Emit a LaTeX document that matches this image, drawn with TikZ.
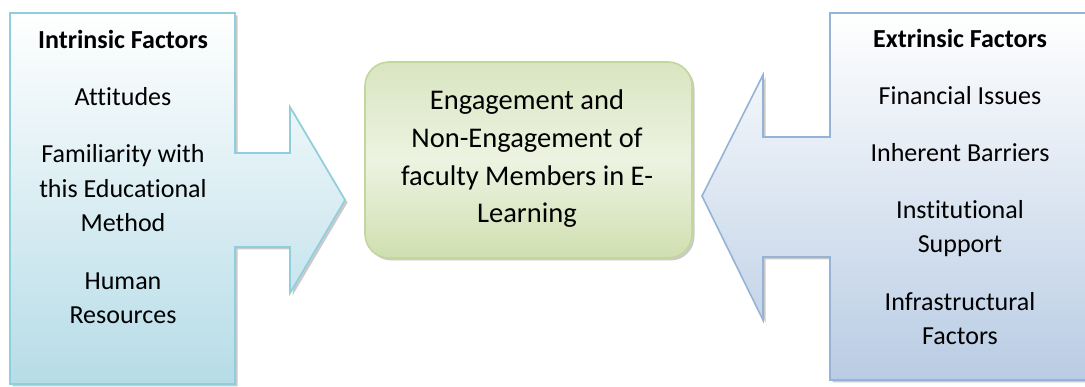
\documentclass[tikz,border=0pt]{standalone}
\usepackage{fontspec}
\setmainfont{Carlito}[Ligatures=NoCommon]
\usetikzlibrary{shadows}
\definecolor{lblueedge}{HTML}{8ECFDE}
\definecolor{lbluebot}{HTML}{B6DCE7}
\definecolor{rblueedge}{HTML}{95B3D7}
\definecolor{rbluebot}{HTML}{B9CCE4}
\definecolor{gedge}{HTML}{C3D69B}
\definecolor{gtop}{HTML}{D9E5C1}
\definecolor{gmid}{HTML}{EDF3E1}
\definecolor{gbot}{HTML}{CFDFB0}
\tikzset{
  shapeshadow/.style={drop shadow={shadow xshift=2.5pt,shadow yshift=-2.5pt,opacity=0.35,fill=black!60}},
  leftshape/.style={draw=lblueedge,line width=1.6pt,top color=white,bottom color=lbluebot,shapeshadow},
  rightshape/.style={draw=rblueedge,line width=1.6pt,top color=white,bottom color=rbluebot,shapeshadow},
  centerbox/.style={draw=gedge,line width=1.6pt,rounded corners=24pt,top color=gtop,bottom color=gbot,middle color=gmid,shapeshadow},
  txt/.style={align=center,font=\fontsize{26}{34.5}\selectfont,inner sep=0pt,anchor=base},
  ttl/.style={txt,font=\fontsize{26}{34.5}\selectfont\bfseries},
  ctxt/.style={align=center,font=\fontsize{28.5}{37.7}\selectfont,inner sep=0pt,anchor=base}
}
\begin{document}
\begin{tikzpicture}[x=1pt,y=-1pt]
\useasboundingbox (0,0) rectangle (1085,387);
\begin{scope}
\clip (0,0) rectangle (1085,387);
\path[leftshape] (10,13) -- (235,13) -- (235,153) -- (290,153) -- (290,107) -- (345,200) -- (290,293) -- (290,247) -- (235,247) -- (235,384) -- (10,384) -- cycle;
\path[rightshape] (830,13) -- (1095,13) -- (1095,380) -- (830,380) -- (830,257) -- (763,257) -- (763,320) -- (702,196) -- (763,75) -- (763,137) -- (830,137) -- cycle;
\end{scope}
\node[centerbox,minimum width=327pt,minimum height=196pt] (center) at (528.5,160) {};
\node[ctxt] (ctext) at (527,223) {Engagement and\\Non-Engagement of\\faculty Members in E-\\Learning};
% left texts
\node[ttl] (intr) at (123,49) {Intrinsic Factors};
\node[txt] (att) at (123,106) {Attitudes};
\node[txt] (fam) at (123,232) {Familiarity with\\this Educational\\Method};
\node[txt] (hum) at (123,324) {Human\\Resources};
% right texts
\node[ttl] (extr) at (960,48) {Extrinsic Factors};
\node[txt] (fin) at (960,105) {Financial Issues};
\node[txt] (inh) at (960,162) {Inherent Barriers};
\node[txt] (inst) at (960,253) {Institutional\\Support};
\node[txt] (infra) at (960,345) {Infrastructural\\Factors};
\end{tikzpicture}
\end{document}
